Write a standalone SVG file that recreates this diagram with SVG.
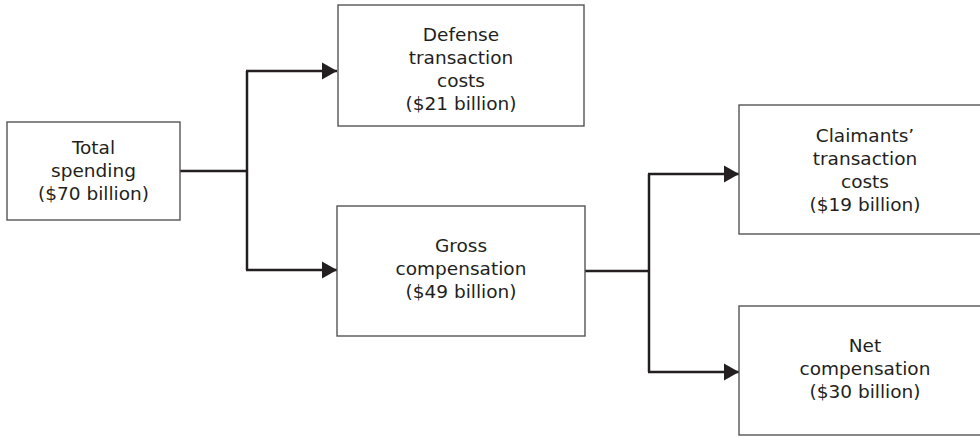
<svg xmlns="http://www.w3.org/2000/svg" width="980" height="436" viewBox="0 0 980 436">
<style>
.box{fill:#fff;stroke:#555;stroke-width:1.4}
.t{font-family:"DejaVu Sans","Open Sans","Liberation Sans",sans-serif;font-size:18.5px;fill:#231f20;text-anchor:middle}
.c{fill:none;stroke:#231f20;stroke-width:2.5}
</style>
<defs>
<marker id="ah" markerWidth="17" markerHeight="18" refX="15" refY="9" orient="auto" markerUnits="userSpaceOnUse">
<path d="M0,0.5 L15,9 L0,17.5 Z" fill="#231f20"/>
</marker>
</defs>
<rect width="980" height="436" fill="#fff"/>
<g id="connectors">
<path class="c" d="M180,171 H247"/>
<path class="c" d="M247,71 V270"/>
<path class="c" d="M246,71 H337" marker-end="url(#ah)"/>
<path class="c" d="M246,270 H337" marker-end="url(#ah)"/>
<path class="c" d="M585,271 H649"/>
<path class="c" d="M649,174 V372"/>
<path class="c" d="M648,174 H739" marker-end="url(#ah)"/>
<path class="c" d="M648,372 H739" marker-end="url(#ah)"/>
</g>
<g id="total">
<rect class="box" x="7" y="122" width="173" height="98"/>
<text class="t" x="93.5" y="154">Total</text>
<text class="t" x="93.5" y="177">spending</text>
<text class="t" x="93.5" y="200">($70 billion)</text>
</g>
<g id="defense">
<rect class="box" x="338" y="5" width="246" height="121"/>
<text class="t" x="461" y="41">Defense</text>
<text class="t" x="461" y="64">transaction</text>
<text class="t" x="461" y="87">costs</text>
<text class="t" x="461" y="110">($21 billion)</text>
</g>
<g id="gross">
<rect class="box" x="337" y="206" width="248" height="130"/>
<text class="t" x="461" y="252">Gross</text>
<text class="t" x="461" y="275">compensation</text>
<text class="t" x="461" y="298">($49 billion)</text>
</g>
<g id="claimants">
<rect class="box" x="739" y="105" width="252" height="129"/>
<text class="t" x="865" y="142">Claimants’</text>
<text class="t" x="865" y="165">transaction</text>
<text class="t" x="865" y="188">costs</text>
<text class="t" x="865" y="211">($19 billion)</text>
</g>
<g id="net">
<rect class="box" x="739" y="306" width="252" height="129"/>
<text class="t" x="865" y="352">Net</text>
<text class="t" x="865" y="375">compensation</text>
<text class="t" x="865" y="398">($30 billion)</text>
</g>
</svg>
